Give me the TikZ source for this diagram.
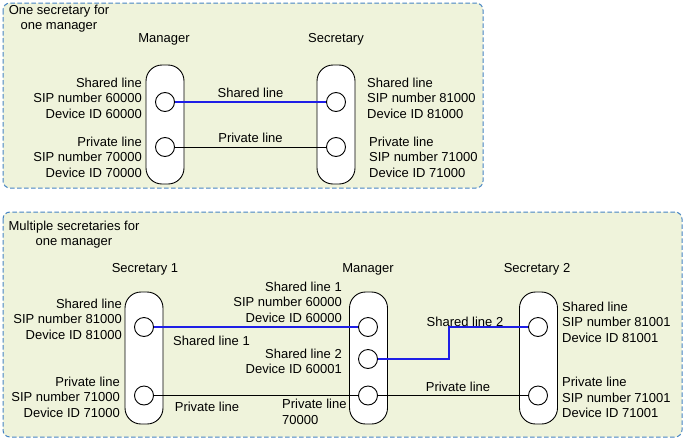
\documentclass[tikz,border=0pt]{standalone}
\usepackage{fontspec}
\setmainfont{Liberation Sans}
\usetikzlibrary{positioning}

\definecolor{panelfill}{RGB}{239,243,219}
\definecolor{panelline}{RGB}{70,132,196}
\definecolor{sharedblue}{RGB}{30,30,230}

\begin{document}
\begin{tikzpicture}[x=1pt,y=-1pt,
  every node/.style={font=\fontsize{13}{15.5}\selectfont, inner sep=0pt},
  panel/.style={draw=panelline, fill=panelfill, dash pattern=on 4.5pt off 2.5pt, rounded corners=7pt, line width=1pt},
  phone/.style={draw, fill=white, rounded corners=16pt, minimum width=38pt, line width=0.9pt},
  port/.style={draw, circle, fill=white, minimum size=19pt, line width=0.9pt},
  shared/.style={draw=sharedblue, line width=1.2pt},
  private/.style={draw=black, line width=0.9pt}]

\useasboundingbox (0,0) rectangle (684,439);

%First figure
\draw[panel] (3,3) rectangle (483,188);
\node[align=center] (titleA) at (59,18.5) {One secretary for\\one manager};

\node (mgrA) at (164,39) {Manager};
\node (secA) at (336,39) {Secretary};

\node[phone, minimum height=119pt] (mgrAbox) at (165,124.5) {};
\node[phone, minimum height=119pt] (secAbox) at (336,124.5) {};

\node[port] (mgrA1) at (165,102) {};\node[port] (mgrA2) at (165,147) {};
\node[port] (secA1) at (336,102) {};\node[port] (secA2) at (336,147) {};

\draw[shared] (mgrA1) -- node[above=3.5pt] (lblA1) {Shared line} (secA1);
\draw[private] (mgrA2) -- node[above=4pt] (lblA2) {Private line} (secA2);

\node[align=right, anchor=east] (infoA1) at (142,98) {Shared line\\SIP number 60000\\Device ID 60000};
\node[align=right, anchor=east] (infoA2) at (142,157) {Private line\\SIP number 70000\\Device ID 70000};
\node[align=left, anchor=west] (infoA3) at (367,98) {Shared line\\SIP number 81000\\Device ID 81000};
\node[align=left, anchor=west] (infoA4) at (369,157) {Private line\\SIP number 71000\\Device ID 71000};


%Second figure
\draw[panel] (3,212) rectangle (682,437);
\node[align=center] (titleB) at (74,234.5) {Multiple secretaries for\\one manager};

\node (secB) at (145,269) {Secretary 1};
\node (mgrB) at (368,269) {Manager};
\node (secC) at (537,269) {Secretary 2};

\node[phone, minimum height=132pt] (secBbox) at (144,358) {};
\node[phone, minimum height=132pt] (mgrBbox) at (368.5,358) {};
\node[phone, minimum height=132pt] (secCbox) at (538.5,358) {};

\node[port] (secB1) at (144,327) {};\node[port] (secB2) at (144,395.5) {};
\node[port] (mgrB1) at (368,327) {};\node[port] (mgrB2) at (368,359) {};\node[port] (mgrB3) at (368,395.5) {};
\node[port] (secC1) at (538,327) {};\node[port] (secC2) at (538,395.5) {};

\coordinate (knee) at (449,343);
\draw[shared] (secB1) -- (mgrB1);
\draw[shared] (mgrB2) -| (knee) |- (secC1);
\draw[private] (secB2) -- (mgrB3);
\draw[private] (mgrB3) -- (secC2);

\node[anchor=west] (lblB1) at (173,341) {Shared line 1};
\node (lblB2) at (465,322) {Shared line 2};
\node (lblB3) at (207,407) {Private line};
\node[align=left, anchor=west] (lblB4) at (282,412) {Private line\\70000};
\node (lblB5) at (458,387) {Private line};

\node[align=right, anchor=east] (infoB1) at (122,319) {Shared line\\SIP number 81000\\Device ID 81000};
\node[align=right, anchor=east] (infoB2) at (120,397) {Private line\\SIP number 71000\\Device ID 71000};
\node[align=right, anchor=east] (infoB3) at (342,302) {Shared line 1\\SIP number 60000\\Device ID 60000};
\node[align=right, anchor=east] (infoB4) at (342,361.5) {Shared line 2\\Device ID 60001};
\node[align=left, anchor=west] (infoB5) at (562,322) {Shared line\\SIP number 81001\\Device ID 81001};
\node[align=left, anchor=west] (infoB6) at (562,397.5) {Private line\\SIP number 71001\\Device ID 71001};

\end{tikzpicture}
\end{document}
